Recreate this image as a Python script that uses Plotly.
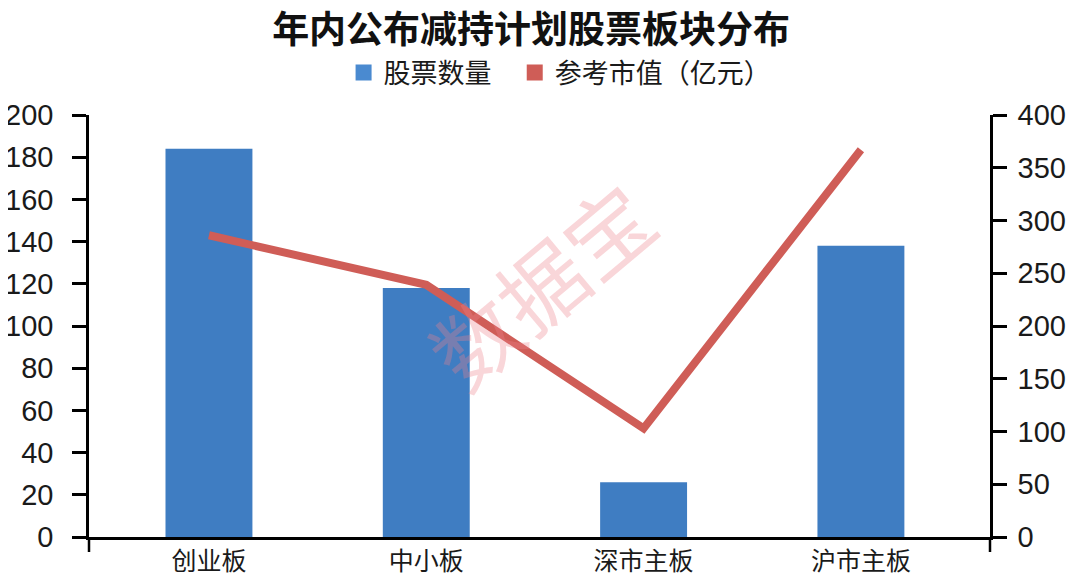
import plotly.graph_objects as go

categories = ["创业板", "中小板", "深市主板", "沪市主板"]
stock_counts = [184, 118, 26, 138]
market_values = [286, 239, 103, 367]

left_ticks = list(range(0, 201, 20))
right_ticks = list(range(0, 401, 50))

FONT = "Liberation Sans, Arial, Noto Sans CJK SC, sans-serif"
CJK = "Noto Sans CJK SC, sans-serif"
BLUE = "#3f7dc2"
RED = "#cf5d57"

# page body has an 8px default margin, so the figure is sized to fit the window
W, H = 1072, 567

fig = go.Figure()
fig.add_trace(go.Bar(
    x=categories, y=stock_counts, name="股票数量",
    marker=dict(color=BLUE, line=dict(width=0)),
    width=0.40, yaxis="y", showlegend=False,
))
fig.add_trace(go.Scatter(
    x=categories, y=market_values, name="参考市值（亿元）",
    mode="lines", line=dict(color=RED, width=8),
    yaxis="y2", showlegend=False,
))
# legend entries with square swatches like the original
fig.add_trace(go.Scatter(
    x=[categories[0]], y=[None], name="股票数量&nbsp;&nbsp;&nbsp;",
    mode="markers", marker=dict(symbol="square", size=17, color="#4a8ad0"),
    yaxis="y", showlegend=True,
))
fig.add_trace(go.Scatter(
    x=[categories[0]], y=[None], name="参考市值（亿元）",
    mode="markers", marker=dict(symbol="square", size=17, color=RED),
    yaxis="y", showlegend=True,
))

axis_common = dict(
    showline=True, linecolor="black", linewidth=2.5,
    ticks="outside", ticklen=14, tickwidth=2.5, tickcolor="black",
    showgrid=False, zeroline=False, automargin=False,
    tickfont=dict(family=FONT, size=29, color="#1a1a1a"),
)

fig.update_layout(
    width=W, height=H,
    margin=dict(l=81, r=90, t=107, b=38),
    paper_bgcolor="white", plot_bgcolor="white",
    barmode="overlay",
    title=dict(
        text="<b>年内公布减持计划股票板块分布</b>",
        x=0.488, xanchor="center", y=1 - 22 / H, yanchor="middle",
        font=dict(family=CJK, size=37, color="#111111"),
    ),
    legend=dict(
        orientation="h", x=0.515, xanchor="center", xref="container",
        y=1 - 65 / H, yanchor="middle", yref="container",
        font=dict(family=CJK, size=27, color="#1a1a1a"),
        itemwidth=30, itemsizing="trace", tracegroupgap=0, traceorder="normal",
        bgcolor="rgba(0,0,0,0)",
    ),
    xaxis=dict(
        type="category", range=[-0.552, 3.594],
        showline=True, linecolor="black", linewidth=2.5,
        ticks="", showgrid=False, zeroline=False, automargin=False,
        tickfont=dict(family=CJK, size=25, color="#1a1a1a"),
    ),
    yaxis=dict(range=[0, 200], tickvals=left_ticks, ticklabelstandoff=13, **axis_common),
    yaxis2=dict(range=[0, 400], tickvals=right_ticks, overlaying="y", side="right",
                ticklabelstandoff=5, **axis_common),
    annotations=[dict(
        text="数据宝", x=0.50, y=0.60, xref="paper", yref="paper",
        showarrow=False, textangle=-40,
        font=dict(family=CJK, size=86, color="rgba(236,130,140,0.33)"),
    )],
    shapes=[
        dict(type="line", xref="paper", yref="paper", x0=0, x1=0, y0=0, y1=-15 / 422,
             line=dict(color="black", width=2.5)),
        dict(type="line", xref="paper", yref="paper", x0=1, x1=1, y0=0, y1=-15 / 422,
             line=dict(color="black", width=2.5)),
    ],
)

fig.write_html("out.html")
